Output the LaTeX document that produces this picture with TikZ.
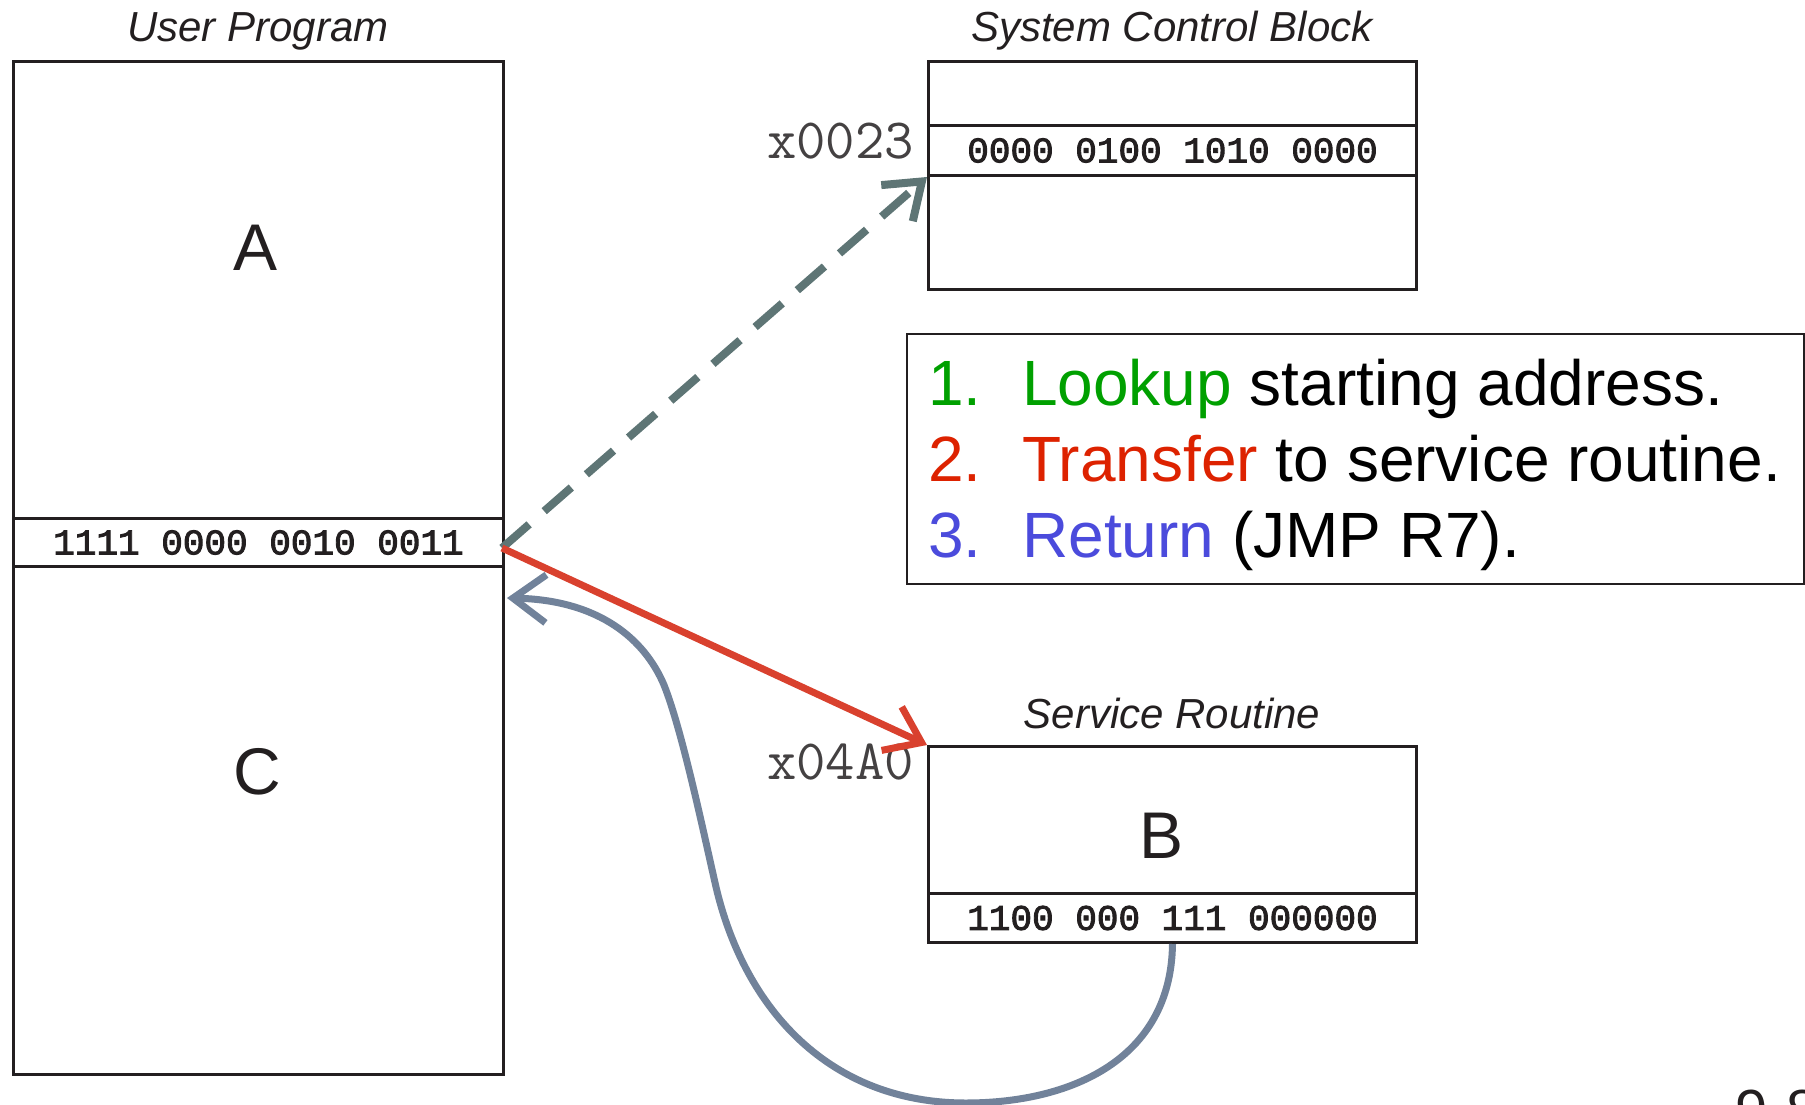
\documentclass[tikz,border=0pt]{standalone}
\usepackage{fontspec}
\setmainfont{Liberation Sans}
\newfontfamily\lblfont{Liberation Sans}
\newfontfamily\binfont[FakeBold=2.5]{Liberation Mono}
\usetikzlibrary{arrows.meta}
\definecolor{ink}{HTML}{231F20}
\definecolor{dashcol}{HTML}{5E7575}
\definecolor{redcol}{HTML}{D9412E}
\definecolor{retcol}{HTML}{71829A}
\definecolor{stepgreen}{HTML}{00A000}
\definecolor{stepred}{HTML}{DD2200}
\definecolor{stepblue}{HTML}{4B4BDC}
\tikzset{
  box/.style={draw=ink, line width=3pt, rectangle, inner sep=0pt, anchor=north west},
  inst/.style={box, font=\binfont\fontsize{36}{40}\selectfont, text=ink},
  lbl/.style={inner sep=0pt, anchor=base, font=\lblfont\itshape\fontsize{42}{46}\selectfont, text=ink},
  big/.style={inner sep=0pt, font=\fontsize{66}{70}\selectfont, text=ink},
  addr/.style={inner sep=0pt, anchor=base east, text=ink!85,
    font=\ttfamily\fontsize{57}{60}\selectfont},
  steptxt/.style={inner sep=0pt, anchor=base west, font=\fontsize{64}{70}\selectfont},
  barb/.style={-{Straight Barb[length=33pt,width=48pt]}},
  dasharrow/.style={barb, draw=dashcol, line width=8pt, dash pattern=on 36pt off 20pt},
  redarrow/.style={barb, draw=redcol, line width=7pt},
  retarrow/.style={barb, draw=retcol, line width=7pt},
}
\begin{document}
\begin{tikzpicture}[x=1pt,y=-1pt]
\useasboundingbox (0,0) rectangle (1805,1105);
% User program
\node[box, minimum width=490pt, minimum height=1013pt] (up) at (12,60) {};
\node[inst, minimum width=490pt, minimum height=48pt] (upinst) at (12,517) {1111 0000 0010 0011};
\node[lbl] (uplbl) at (258,42) {User Program};
\node[big] (a) at (256,248) {A};
\node[big] (c) at (257,772) {C};
% System control block
\node[box, minimum width=488pt, minimum height=228pt] (scb) at (927,60) {};
\node[inst, minimum width=488pt, minimum height=50pt] (scbinst) at (927,124) {0000 0100 1010 0000};
\node[lbl] (scblbl) at (1172,42) {System Control Block};
\node[addr] (a23) at (914,159) {x0023};
% Service routine
\node[box, minimum width=488pt, minimum height=196pt] (sr) at (927,745) {};
\node[inst, minimum width=488pt, minimum height=49pt] (srinst) at (927,892) {1100 000 111 000000};
\node[lbl] (srlbl) at (1172,728) {Service Routine};
\node[addr] (a4a0) at (914,779) {x04A0};
\node[big] (b) at (1161,836) {B};
% Steps box
\node[draw=ink, line width=2pt, anchor=north west, inner sep=0pt, minimum width=897pt, minimum height=250pt] (steps) at (906,333) {};
\node[steptxt, text=stepgreen] (n1) at (928,405) {1.};
\node[steptxt, text=black] (t1) at (1022,405) {\textcolor{stepgreen}{Lookup} starting address.};
\node[steptxt, text=stepred] (n2) at (928,481) {2.};
\node[steptxt, text=black] (t2) at (1022,481) {\textcolor{stepred}{Transfer} to service routine.};
\node[steptxt, text=stepblue] (n3) at (928,557) {3.};
\node[steptxt, text=black] (t3) at (1022,557) {\textcolor{stepblue}{Return} (JMP R7).};
% slide number (cut off)
\node[inner sep=0pt, anchor=north west, font=\fontsize{58}{60}\selectfont, text=ink] (pg) at (1735,1090) {9-8};
% connectors
\coordinate (src) at (502,548);
\coordinate (ret) at (507,598);
\draw[dasharrow] (src) -- (scbinst.south west);
\draw[redarrow] (src) -- (sr.north west);
\draw[retarrow] (srinst.south) .. controls (1171,1060) and (1070,1103) .. (966,1103)
  .. controls (830,1103) and (745,1010) .. (716,887)
  .. controls (703,830) and (682,730) .. (664,685)
  .. controls (645,640) and (600,600) .. (ret);
\end{tikzpicture}
\end{document}
